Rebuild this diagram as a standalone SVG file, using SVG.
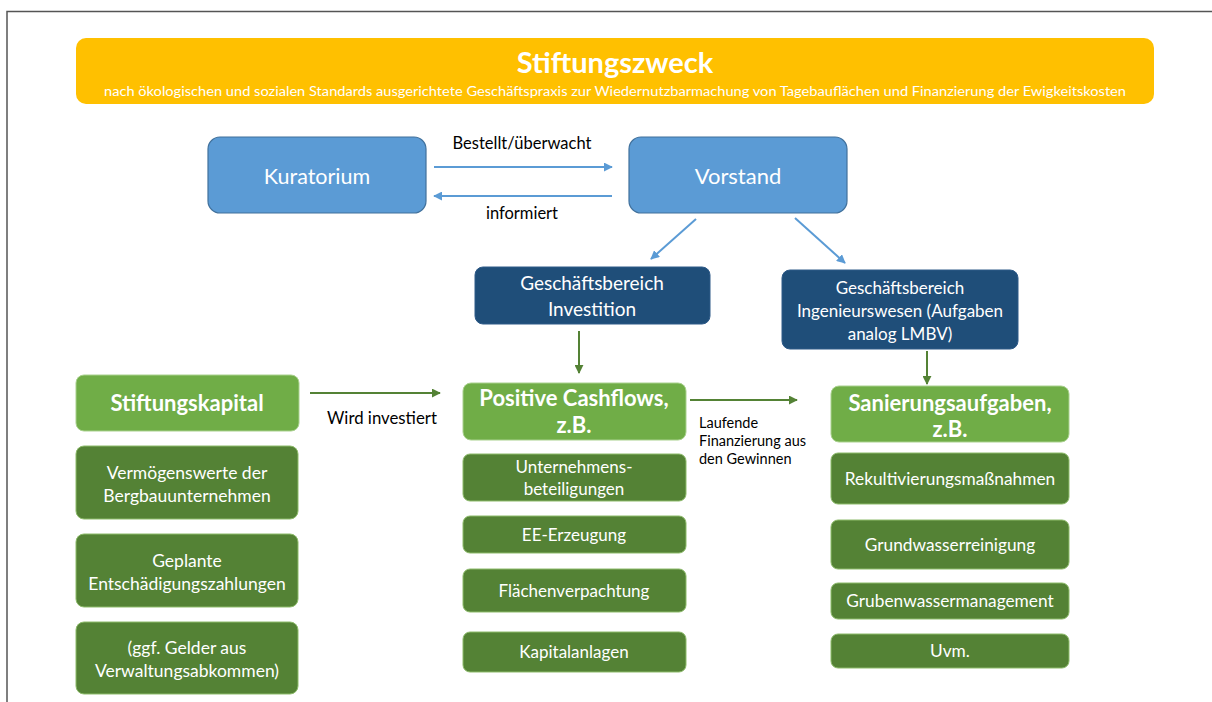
<svg xmlns="http://www.w3.org/2000/svg" width="1212" height="702" viewBox="0 0 1212 702">
<style>
text{font-family:Lato,"Open Sans","Liberation Sans",sans-serif;text-anchor:middle}
.w{fill:#ffffff}
.k{fill:#000000}
.b{font-weight:bold}
.l{text-anchor:start}
.blue{fill:#5B9BD5;stroke:#41719C;stroke-width:1.2}
.navy{fill:#1F4E79;stroke:#2E5A88;stroke-width:1}
.lg{fill:#70AD47;stroke:#A9D18E;stroke-width:1}
.dg{fill:#548235;stroke:#8DBB6B;stroke-width:1}
.ab{stroke:#5B9BD5;stroke-width:2;fill:none;marker-end:url(#mb)}
.ag{stroke:#548235;stroke-width:2;fill:none;marker-end:url(#mg)}
</style>
<defs>
<marker id="mb" viewBox="0 0 10 10" refX="9" refY="5" markerWidth="4.5" markerHeight="4.5" orient="auto"><path d="M0,0 L10,5 L0,10 z" fill="#5B9BD5"/></marker>
<marker id="mg" viewBox="0 0 10 10" refX="9" refY="5" markerWidth="4.5" markerHeight="4.5" orient="auto"><path d="M0,0 L10,5 L0,10 z" fill="#548235"/></marker>
</defs>
<rect width="1212" height="702" fill="#ffffff"/>
<path d="M7,702 V11.5 H1212" fill="none" stroke="#555555" stroke-width="1.5"/>

<g id="stiftungszweck">
<rect x="76" y="38" width="1078" height="66" rx="10" fill="#FFC000"/>
<text x="615" y="73" class="w b" font-size="29">Stiftungszweck</text>
<text x="615" y="96" class="w" font-size="12.5" textLength="1022" lengthAdjust="spacingAndGlyphs">nach ökologischen und sozialen Standards ausgerichtete Geschäftspraxis zur Wiedernutzbarmachung von Tagebauflächen und Finanzierung der Ewigkeitskosten</text>
</g>

<g id="kuratorium">
<rect x="208" y="137" width="218" height="76" rx="12" class="blue"/>
<text x="317" y="184" class="w" font-size="21.5">Kuratorium</text>
</g>
<g id="vorstand">
<rect x="629" y="137" width="218" height="76" rx="12" class="blue"/>
<text x="738" y="184" class="w" font-size="22">Vorstand</text>
</g>

<g id="gb-investition">
<rect x="475" y="267" width="235" height="57" rx="8" class="navy"/>
<text x="592" y="290" class="w" font-size="19">Geschäftsbereich</text>
<text x="592" y="316" class="w" font-size="19">Investition</text>
</g>
<g id="gb-ingenieurswesen">
<rect x="782" y="270" width="236" height="79" rx="8" class="navy"/>
<text x="900" y="294" class="w" font-size="17">Geschäftsbereich</text>
<text x="900" y="317" class="w" font-size="17">Ingenieurswesen (Aufgaben</text>
<text x="900" y="340" class="w" font-size="17">analog LMBV)</text>
</g>

<g id="stiftungskapital">
<rect x="76" y="375" width="223" height="56" rx="8" class="lg"/>
<text x="187" y="411" class="w b" font-size="22">Stiftungskapital</text>
</g>
<g id="vermoegenswerte">
<rect x="76" y="446" width="222" height="73" rx="8" class="dg"/>
<text x="187" y="479" class="w" font-size="17.5">Vermögenswerte der</text>
<text x="187" y="502" class="w" font-size="17.5">Bergbauunternehmen</text>
</g>
<g id="entschaedigung">
<rect x="76" y="534" width="222" height="73" rx="8" class="dg"/>
<text x="187" y="567" class="w" font-size="17.5">Geplante</text>
<text x="187" y="590" class="w" font-size="17.5">Entschädigungszahlungen</text>
</g>
<g id="verwaltungsabkommen">
<rect x="76" y="622" width="222" height="72" rx="8" class="dg"/>
<text x="187" y="654" class="w" font-size="17.5">(ggf. Gelder aus</text>
<text x="187" y="677" class="w" font-size="17.5">Verwaltungsabkommen)</text>
</g>

<g id="positive-cashflows">
<rect x="463" y="383" width="223" height="57" rx="8" class="lg"/>
<text x="574" y="406" class="w b" font-size="22">Positive Cashflows,</text>
<text x="574" y="433" class="w b" font-size="22">z.B.</text>
</g>
<g id="unternehmensbeteiligungen">
<rect x="463" y="454" width="223" height="47" rx="7" class="dg"/>
<text x="574" y="473" class="w" font-size="17">Unternehmens-</text>
<text x="574" y="495" class="w" font-size="17">beteiligungen</text>
</g>
<g id="ee-erzeugung">
<rect x="463" y="516" width="223" height="37" rx="7" class="dg"/>
<text x="574" y="541" class="w" font-size="17">EE-Erzeugung</text>
</g>
<g id="flaechenverpachtung">
<rect x="463" y="569" width="223" height="43" rx="7" class="dg"/>
<text x="574" y="597" class="w" font-size="17">Flächenverpachtung</text>
</g>
<g id="kapitalanlagen">
<rect x="463" y="632" width="223" height="40" rx="7" class="dg"/>
<text x="574" y="658" class="w" font-size="17">Kapitalanlagen</text>
</g>

<g id="sanierungsaufgaben">
<rect x="831" y="386" width="238" height="56" rx="8" class="lg"/>
<text x="950" y="411" class="w b" font-size="22">Sanierungsaufgaben,</text>
<text x="950" y="437" class="w b" font-size="22">z.B.</text>
</g>
<g id="rekultivierung">
<rect x="831" y="453" width="238" height="51" rx="7" class="dg"/>
<text x="950" y="485" class="w" font-size="17.3">Rekultivierungsmaßnahmen</text>
</g>
<g id="grundwasserreinigung">
<rect x="831" y="520" width="238" height="49" rx="7" class="dg"/>
<text x="950" y="551" class="w" font-size="17.3">Grundwasserreinigung</text>
</g>
<g id="grubenwassermanagement">
<rect x="831" y="583" width="238" height="36" rx="7" class="dg"/>
<text x="950" y="607" class="w" font-size="17.3">Grubenwassermanagement</text>
</g>
<g id="uvm">
<rect x="831" y="634" width="238" height="34" rx="7" class="dg"/>
<text x="950" y="657" class="w" font-size="17.3">Uvm.</text>
</g>

<g id="connectors">
<line x1="434" y1="167" x2="612" y2="167" class="ab"/>
<line x1="612" y1="196" x2="434" y2="196" class="ab"/>
<line x1="696" y1="219" x2="651" y2="259" class="ab"/>
<line x1="795" y1="218" x2="845" y2="263" class="ab"/>
<line x1="579" y1="331" x2="579" y2="373" class="ag"/>
<line x1="927" y1="351" x2="927" y2="384" class="ag"/>
<line x1="310" y1="393" x2="440" y2="393" class="ag"/>
<line x1="690" y1="400" x2="797" y2="400" class="ag"/>
<text x="522" y="149" class="k" font-size="16.5">Bestellt/überwacht</text>
<text x="522" y="219" class="k" font-size="16.5">informiert</text>
<text x="382" y="424" class="k" font-size="16.8">Wird investiert</text>
<text x="699" y="428" class="k l" font-size="14.5">Laufende</text>
<text x="699" y="446" class="k l" font-size="14.5">Finanzierung aus</text>
<text x="699" y="464" class="k l" font-size="14.5">den Gewinnen</text>
</g>
</svg>
